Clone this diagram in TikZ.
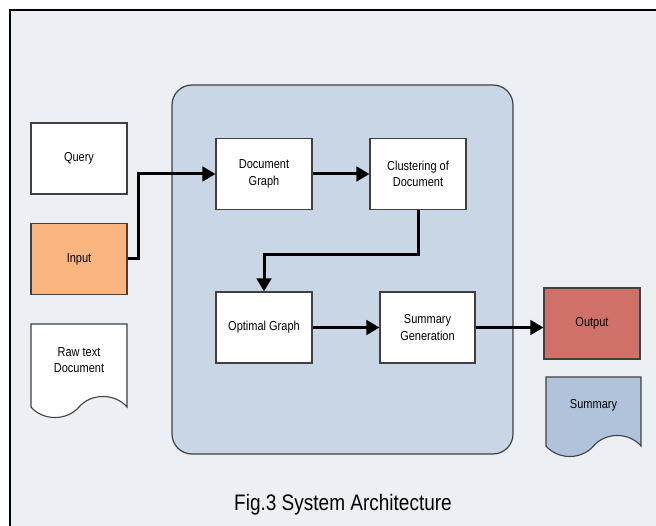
\documentclass[tikz,border=0pt]{standalone}
\usepackage{fontspec}
\setmainfont{Liberation Sans}
\usetikzlibrary{arrows.meta}

\definecolor{pagebg}{RGB}{236,240,245}
\definecolor{corebg}{RGB}{200,214,229}
\definecolor{inputfill}{RGB}{248,181,127}
\definecolor{outputfill}{RGB}{207,113,105}
\definecolor{sumfill}{RGB}{176,195,219}
\definecolor{edge}{RGB}{64,64,64}

% slightly tall lettering
\newcommand{\tall}[1]{\scalebox{1}[1.18]{#1}}

\begin{document}
\begin{tikzpicture}[x=1pt,y=-1pt,
  block/.style={draw=edge,line width=1.1pt,fill=white,minimum width=96pt,
    minimum height=71pt,inner sep=0pt,align=center,font=\fontsize{11}{16.5}\selectfont},
  docbox/.style={block,draw=none,fill=none},
  flow/.style={line width=3pt,-{Triangle[length=13pt,width=14.5pt]}}]
\useasboundingbox (0,0) rectangle (656,526);
\clip (0,0) rectangle (656,526);
% frame and processing area
\draw[line width=1.3pt,fill=pagebg] (10,10) rectangle (670,540);
\draw[draw=edge,line width=1.2pt,fill=corebg,rounded corners=20pt] (172,85) rectangle (513,454);
% wavy document outlines
\draw[draw=edge,line width=1.1pt,fill=white] (31,324) -- (127,324) -- (127,407)
  .. controls +(-12,-14) and +(12,-14) .. (79,407)
  .. controls +(-12,14) and +(12,14) .. (31,407) -- cycle;
\draw[draw=edge,line width=1.1pt,fill=sumfill] (546,377) -- (641,377) -- (641,446)
  .. controls +(-12,-14) and +(12,-14) .. (593.5,446)
  .. controls +(-12,14) and +(12,14) .. (546,446) -- cycle;
% inputs
\node[block] (query) at (79,158.5) {\tall{Query}};
\node[block,fill=inputfill] (input) at (79,259) {\tall{Input}};
\node[docbox] (raw) at (79,360) {\tall{Raw text}\\\tall{Document}};
% processing steps
\node[block] (docgraph) at (264,174) {\tall{Document}\\\tall{Graph}};
\node[block] (cluster) at (418,174) {\tall{Clustering of}\\\tall{Document}};
\node[block] (optgraph) at (264,327.5) {\tall{Optimal Graph}};
\node[block,minimum width=95pt] (sumgen) at (427.5,327.5) {\tall{Summary}\\\tall{Generation}};
% outputs
\node[block,fill=outputfill] (output) at (592,323.5) {\tall{Output}};
\node[docbox,minimum width=95pt,minimum height=57pt] (summary) at (593.5,405) {\tall{Summary}};
% flow
\draw[flow] (input.east) -- ++(11,0) |- (docgraph.west);
\draw[flow] (docgraph) -- (cluster);
\draw[flow] (cluster.south) -- ++(0,44) -| (optgraph.north);
\draw[flow] (optgraph) -- (sumgen);
\draw[flow] (sumgen.east) -- (sumgen.east -| output.west);
\node[font=\fontsize{19}{23}\selectfont] (caption) at (343,505) {\tall{Fig.3 System Architecture}};
\end{tikzpicture}
\end{document}
